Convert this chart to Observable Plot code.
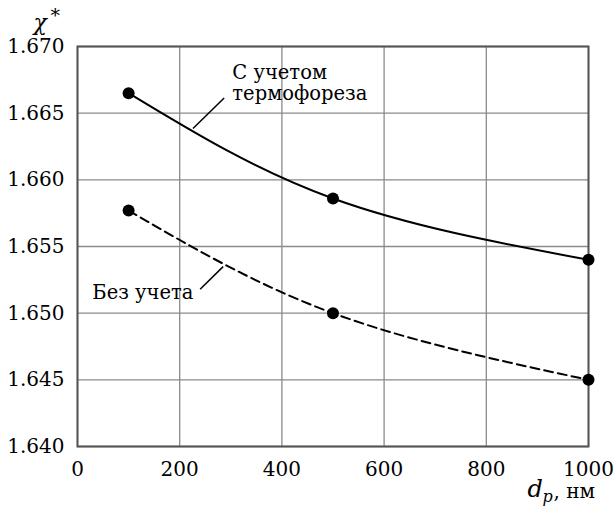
<!DOCTYPE html>
<html>
<head>
<meta charset="utf-8">
<script src="https://cdn.jsdelivr.net/npm/d3@7"></script>
<script src="https://cdn.jsdelivr.net/npm/@observablehq/plot@0.6"></script>
<style>
  html, body { margin: 0; padding: 0; background: #fff; }
  #chart svg { display: block; }
  #chart svg text { font-family: "DejaVu Serif", serif !important; }
</style>
</head>
<body>
<div id="chart"></div>
<script>
// Particle diameter, nm
const diameters = [100, 500, 1000];
// χ* with thermophoresis taken into account
const withThermo = [1.6665, 1.6586, 1.6540];
// χ* without thermophoresis
const withoutThermo = [1.6577, 1.6500, 1.6450];

const xTicks = [0, 200, 400, 600, 800, 1000];
const yTicks = [1.640, 1.645, 1.650, 1.655, 1.660, 1.665, 1.670];

// Curve labels and their leader lines (data units)
const labelLines = [
  {text: "С учетом", x: 303, y: 1.66804},
  {text: "термофореза", x: 303, y: 1.66643},
  {text: "Без учета", x: 29, y: 1.65150}
];
const leaders = [
  {x1: 226, y1: 1.66385, x2: 287, y2: 1.66614},
  {x1: 240, y1: 1.65180, x2: 285, y2: 1.65349}
];

const solid = diameters.map((d, i) => ({d, v: withThermo[i]}));
const dashed = diameters.map((d, i) => ({d, v: withoutThermo[i]}));

const chart = Plot.plot({
  width: 616,
  height: 512,
  marginLeft: 77,
  marginRight: 28,
  marginTop: 46,
  marginBottom: 66,
  style: {fontSize: "20px", color: "#000", background: "#fff"},
  x: {domain: [0, 1000]},
  y: {domain: [1.640, 1.670]},
  marks: [
    Plot.gridX(xTicks, {stroke: "#8a8a8a", strokeOpacity: 1, strokeWidth: 1.3}),
    Plot.gridY(yTicks, {stroke: "#8a8a8a", strokeOpacity: 1, strokeWidth: 1.3}),
    Plot.frame({stroke: "#555", strokeWidth: 2}),
    Plot.axisX(xTicks, {tickSize: 0, tickPadding: 15, tickFormat: d => String(d), label: null, fontSize: 20}),
    Plot.axisY(yTicks, {tickSize: 0, tickPadding: 13, tickFormat: d3.format(".3f"), label: null, fontSize: 20}),
    Plot.line(solid, {x: "d", y: "v", curve: "natural", stroke: "#000", strokeWidth: 2}),
    Plot.line(dashed, {x: "d", y: "v", curve: "natural", stroke: "#000", strokeWidth: 2, strokeDasharray: "9,5"}),
    Plot.dot(solid, {x: "d", y: "v", r: 6, fill: "#000"}),
    Plot.dot(dashed, {x: "d", y: "v", r: 6, fill: "#000"}),
    Plot.link(leaders, {x1: "x1", y1: "y1", x2: "x2", y2: "y2", stroke: "#000", strokeWidth: 1.5}),
    Plot.text(labelLines, {x: "x", y: "y", text: "text", textAnchor: "start", fontSize: 19.5, fill: "#000"}),
    // axis titles
    Plot.text(["χ"], {frameAnchor: "top-left", dx: -44, dy: -32, textAnchor: "start", fontStyle: "italic", fontSize: 22}),
    Plot.text(["*"], {frameAnchor: "top-left", dx: -27, dy: -38, textAnchor: "start", fontSize: 19}),
    Plot.text(["d"], {frameAnchor: "bottom-right", dx: -61, dy: 50, textAnchor: "start", fontStyle: "italic", fontSize: 24}),
    Plot.text(["p"], {frameAnchor: "bottom-right", dx: -46, dy: 55, textAnchor: "start", fontStyle: "italic", fontSize: 16}),
    Plot.text([", нм"], {frameAnchor: "bottom-right", dx: -35, dy: 51, textAnchor: "start", fontSize: 20})
  ]
});

document.getElementById("chart").appendChild(chart);
</script>
</body>
</html>
